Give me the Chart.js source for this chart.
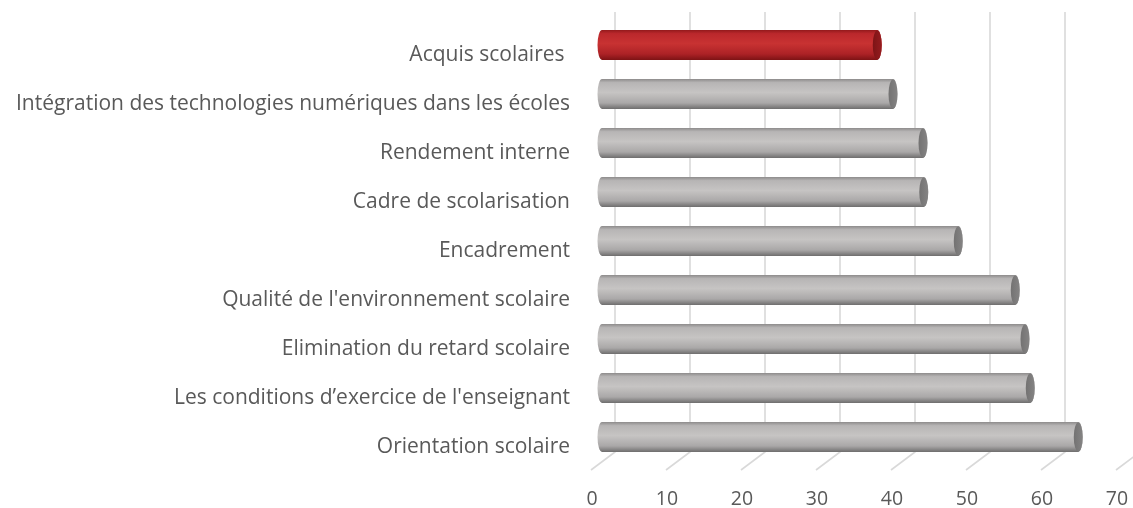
<!DOCTYPE html>
<html lang="fr">
<head>
<meta charset="UTF-8">
<title>Acquis scolaires</title>
<style>
body { margin: 0; background: #ffffff; }
#wrap { width: 1133px; height: 508px; position: relative; }
</style>
</head>
<body>
<div id="wrap"><canvas id="chart"></canvas></div>

<script src="https://cdn.jsdelivr.net/npm/chart.js"></script>
<script>
// data
const categories = [
    'Acquis scolaires ',
    'Intégration des technologies numériques dans les écoles',
    'Rendement interne',
    'Cadre de scolarisation',
    'Encadrement',
    "Qualité de l'environnement scolaire",
    'Elimination du retard scolaire',
    'Les conditions d\u2019exercice de l\'enseignant',
    'Orientation scolaire'
];
const values = [36.7, 38.8, 42.8, 42.9, 47.5, 55.1, 56.4, 57.1, 63.5];
const xTicks = [0, 10, 20, 30, 40, 50, 60, 70];
const highlighted = 0;

const FONT = "'Open Sans', Lato, sans-serif";
const TEXT = '#595959';

// fake 3D: back wall grid + floor lines, then cylinders on top
const depth = { back: 13, front: -11, wallTop: 12, floorBack: 452, floorFront: 470 };

const wallPlugin = {
    id: 'wall',
    beforeDatasetsDraw(chart) {
        const ctx = chart.ctx;
        const xs = chart.scales.x;
        ctx.save();
        ctx.strokeStyle = '#d9d9d9';
        ctx.lineWidth = 1.6;
        xTicks.forEach(v => {
            const p = xs.getPixelForValue(v);
            ctx.beginPath();
            ctx.moveTo(p + depth.back, depth.wallTop);
            ctx.lineTo(p + depth.back, depth.floorBack);
            ctx.lineTo(p + depth.front, depth.floorFront);
            ctx.stroke();
        });
        ctx.restore();
    }
};

function cylinder(ctx, x0, x1, y, h, red) {
    const top = y - h / 2, bot = y + h / 2, rx = 4.5, ry = h / 2;
    const g = ctx.createLinearGradient(0, top, 0, bot);
    if (red) {
        g.addColorStop(0, '#941a1c');
        g.addColorStop(0.12, '#bb282c');
        g.addColorStop(0.45, '#c83232');
        g.addColorStop(0.8, '#ad2226');
        g.addColorStop(1, '#7e1315');
    } else {
        g.addColorStop(0, '#8e8c8c');
        g.addColorStop(0.12, '#b7b5b5');
        g.addColorStop(0.45, '#c6c4c3');
        g.addColorStop(0.8, '#aaa8a8');
        g.addColorStop(1, '#6f6e6e');
    }
    ctx.fillStyle = g;
    ctx.beginPath();
    ctx.ellipse(x0, y, rx, ry, 0, Math.PI / 2, Math.PI * 1.5);
    ctx.lineTo(x1, top);
    ctx.ellipse(x1, y, rx, ry, 0, -Math.PI / 2, Math.PI / 2);
    ctx.closePath();
    ctx.fill();
    // end cap
    const cg = ctx.createLinearGradient(x1 - rx, 0, x1 + rx, 0);
    if (red) {
        cg.addColorStop(0, '#7d1416');
        cg.addColorStop(1, '#951c1f');
    } else {
        cg.addColorStop(0, '#737272');
        cg.addColorStop(1, '#858484');
    }
    ctx.fillStyle = cg;
    ctx.beginPath();
    ctx.ellipse(x1, y, rx, ry - 0.5, 0, 0, Math.PI * 2);
    ctx.fill();
}

const cylPlugin = {
    id: 'cyl',
    afterDatasetsDraw(chart) {
        const ctx = chart.ctx;
        const meta = chart.getDatasetMeta(0);
        ctx.save();
        meta.data.forEach((bar, i) => {
            cylinder(ctx, bar.base, bar.x, bar.y, bar.height, i === highlighted);
        });
        ctx.restore();
    }
};

new Chart(document.getElementById('chart'), {
    type: 'bar',
    data: {
        labels: categories,
        datasets: [{
            data: values,
            backgroundColor: 'rgba(0,0,0,0)',
            borderWidth: 0,
            barPercentage: 0.61,
            categoryPercentage: 1
        }]
    },
    options: {
        indexAxis: 'y',
        responsive: true,
        maintainAspectRatio: false,
        animation: false,
        layout: { padding: { top: 20.5, right: 6, left: 0, bottom: 0 } },
        plugins: { legend: { display: false }, tooltip: { enabled: false } },
        scales: {
            x: {
                min: 0,
                max: 70,
                grid: { display: false, drawTicks: false },
                border: { display: false },
                ticks: {
                    stepSize: 10,
                    padding: 26,
                    labelOffset: -10,
                    color: TEXT,
                    font: { family: FONT, size: 19.5 }
                },
                afterFit(scale) {
                    scale.height = 46.5;
                    scale.paddingLeft = 0;
                    scale.paddingRight = 0;
                }
            },
            y: {
                grid: { display: false, drawTicks: false },
                border: { display: false },
                ticks: {
                    padding: 32,
                    labelOffset: 10,
                    color: TEXT,
                    font: { family: FONT, size: 21 }
                },
                afterFit(scale) {
                    scale.width = 602;
                    scale.paddingTop = 0;
                    scale.paddingBottom = 0;
                }
            }
        }
    },
    plugins: [wallPlugin, cylPlugin]
});
</script>
</body>
</html>
